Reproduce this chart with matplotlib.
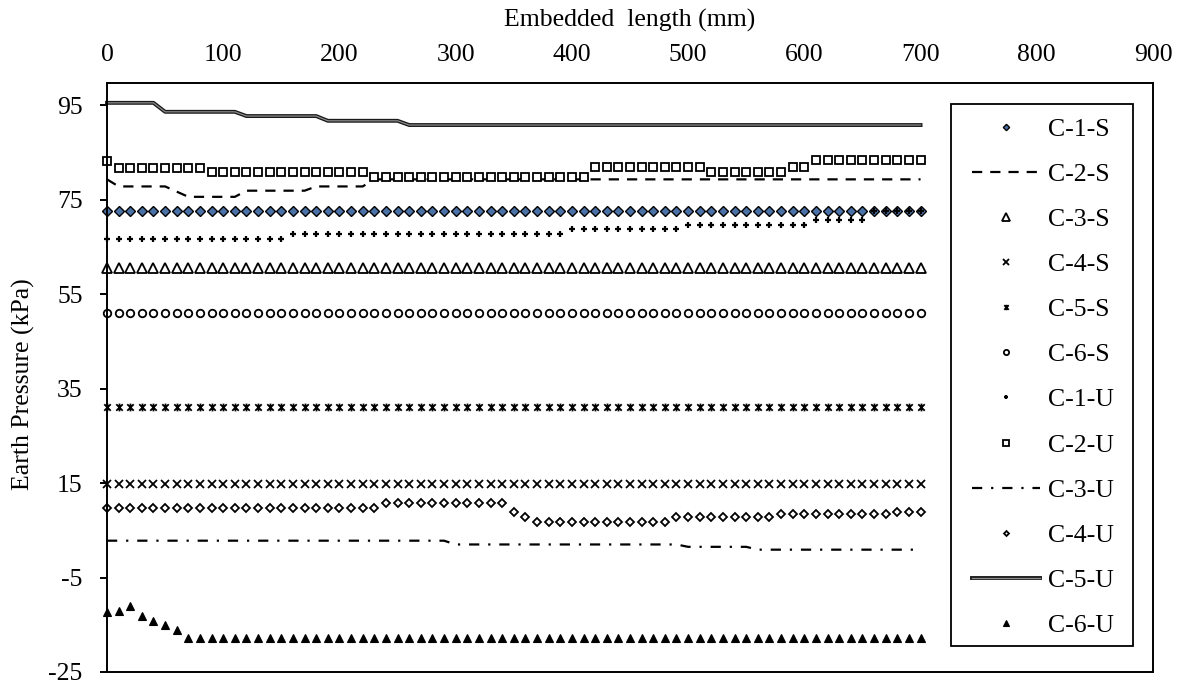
import matplotlib
matplotlib.use("Agg")
import matplotlib.pyplot as plt
from matplotlib.path import Path
from matplotlib.patches import Rectangle
import matplotlib.patheffects as pe

plt.rcParams['font.family'] = ['Liberation Serif', 'DejaVu Serif']
plt.rcParams['axes.unicode_minus'] = False

# Embedded length of each reading (mm)
distance = list(range(0, 701, 10))

# Earth pressure (kPa) per gauge
c1_s = [
    72.5, 72.5, 72.5, 72.5, 72.5, 72.5, 72.5, 72.5, 72.5, 72.5,
    72.5, 72.5, 72.5, 72.5, 72.5, 72.5, 72.5, 72.5, 72.5, 72.5,
    72.5, 72.5, 72.5, 72.5, 72.5, 72.5, 72.5, 72.5, 72.5, 72.5,
    72.5, 72.5, 72.5, 72.5, 72.5, 72.5, 72.5, 72.5, 72.5, 72.5,
    72.5, 72.5, 72.5, 72.5, 72.5, 72.5, 72.5, 72.5, 72.5, 72.5,
    72.5, 72.5, 72.5, 72.5, 72.5, 72.5, 72.5, 72.5, 72.5, 72.5,
    72.5, 72.5, 72.5, 72.5, 72.5, 72.5, 72.5, 72.5, 72.5, 72.5,
    72.5]
c2_s = [
    79.3, 77.8, 77.8, 77.8, 77.8, 77.8, 76.7, 75.6, 75.6, 75.6,
    75.6, 75.6, 76.9, 76.9, 76.9, 76.9, 76.9, 76.9, 77.8, 77.8,
    77.8, 77.8, 77.8, 79.3, 79.3, 79.3, 79.3, 79.3, 79.3, 79.3,
    79.3, 79.3, 79.3, 79.3, 79.3, 79.3, 79.3, 79.3, 79.3, 79.3,
    79.3, 79.3, 79.3, 79.3, 79.3, 79.3, 79.3, 79.3, 79.3, 79.3,
    79.3, 79.3, 79.3, 79.3, 79.3, 79.3, 79.3, 79.3, 79.3, 79.3,
    79.3, 79.3, 79.3, 79.3, 79.3, 79.3, 79.3, 79.3, 79.3, 79.3,
    79.3]
c3_s = [
    60.5, 60.5, 60.5, 60.5, 60.5, 60.5, 60.5, 60.5, 60.5, 60.5,
    60.5, 60.5, 60.5, 60.5, 60.5, 60.5, 60.5, 60.5, 60.5, 60.5,
    60.5, 60.5, 60.5, 60.5, 60.5, 60.5, 60.5, 60.5, 60.5, 60.5,
    60.5, 60.5, 60.5, 60.5, 60.5, 60.5, 60.5, 60.5, 60.5, 60.5,
    60.5, 60.5, 60.5, 60.5, 60.5, 60.5, 60.5, 60.5, 60.5, 60.5,
    60.5, 60.5, 60.5, 60.5, 60.5, 60.5, 60.5, 60.5, 60.5, 60.5,
    60.5, 60.5, 60.5, 60.5, 60.5, 60.5, 60.5, 60.5, 60.5, 60.5,
    60.5]
c4_s = [
    14.7, 14.7, 14.7, 14.7, 14.7, 14.7, 14.7, 14.7, 14.7, 14.7,
    14.7, 14.7, 14.7, 14.7, 14.7, 14.7, 14.7, 14.7, 14.7, 14.7,
    14.7, 14.7, 14.7, 14.7, 14.7, 14.7, 14.7, 14.7, 14.7, 14.7,
    14.7, 14.7, 14.7, 14.7, 14.7, 14.7, 14.7, 14.7, 14.7, 14.7,
    14.7, 14.7, 14.7, 14.7, 14.7, 14.7, 14.7, 14.7, 14.7, 14.7,
    14.7, 14.7, 14.7, 14.7, 14.7, 14.7, 14.7, 14.7, 14.7, 14.7,
    14.7, 14.7, 14.7, 14.7, 14.7, 14.7, 14.7, 14.7, 14.7, 14.7,
    14.7]
c5_s = [
    31.1, 31.1, 31.1, 31.1, 31.1, 31.1, 31.1, 31.1, 31.1, 31.1,
    31.1, 31.1, 31.1, 31.1, 31.1, 31.1, 31.1, 31.1, 31.1, 31.1,
    31.1, 31.1, 31.1, 31.1, 31.1, 31.1, 31.1, 31.1, 31.1, 31.1,
    31.1, 31.1, 31.1, 31.1, 31.1, 31.1, 31.1, 31.1, 31.1, 31.1,
    31.1, 31.1, 31.1, 31.1, 31.1, 31.1, 31.1, 31.1, 31.1, 31.1,
    31.1, 31.1, 31.1, 31.1, 31.1, 31.1, 31.1, 31.1, 31.1, 31.1,
    31.1, 31.1, 31.1, 31.1, 31.1, 31.1, 31.1, 31.1, 31.1, 31.1,
    31.1]
c6_s = [
    50.9, 50.9, 50.9, 50.9, 50.9, 50.9, 50.9, 50.9, 50.9, 50.9,
    50.9, 50.9, 50.9, 50.9, 50.9, 50.9, 50.9, 50.9, 50.9, 50.9,
    50.9, 50.9, 50.9, 50.9, 50.9, 50.9, 50.9, 50.9, 50.9, 50.9,
    50.9, 50.9, 50.9, 50.9, 50.9, 50.9, 50.9, 50.9, 50.9, 50.9,
    50.9, 50.9, 50.9, 50.9, 50.9, 50.9, 50.9, 50.9, 50.9, 50.9,
    50.9, 50.9, 50.9, 50.9, 50.9, 50.9, 50.9, 50.9, 50.9, 50.9,
    50.9, 50.9, 50.9, 50.9, 50.9, 50.9, 50.9, 50.9, 50.9, 50.9,
    50.9]
c1_u = [
    66.7, 66.7, 66.7, 66.7, 66.7, 66.7, 66.7, 66.7, 66.7, 66.7,
    66.7, 66.7, 66.7, 66.7, 66.7, 66.7, 67.7, 67.7, 67.7, 67.7,
    67.7, 67.7, 67.7, 67.7, 67.7, 67.7, 67.7, 67.7, 67.7, 67.7,
    67.7, 67.7, 67.7, 67.7, 67.7, 67.7, 67.7, 67.7, 67.7, 67.7,
    68.7, 68.7, 68.7, 68.7, 68.7, 68.7, 68.7, 68.7, 68.7, 68.7,
    69.7, 69.7, 69.7, 69.7, 69.7, 69.7, 69.7, 69.7, 69.7, 69.7,
    69.7, 70.8, 70.8, 70.8, 70.8, 70.8, 72.5, 72.5, 72.5, 72.5,
    72.5]
c2_u = [
    83.2, 81.8, 81.8, 81.8, 81.8, 81.8, 81.8, 81.8, 81.8, 80.8,
    80.8, 80.8, 80.8, 80.8, 80.8, 80.8, 80.8, 80.8, 80.8, 80.8,
    80.8, 80.8, 80.8, 79.8, 79.8, 79.8, 79.8, 79.8, 79.8, 79.8,
    79.8, 79.8, 79.8, 79.8, 79.8, 79.8, 79.8, 79.8, 79.8, 79.8,
    79.8, 79.8, 81.9, 81.9, 81.9, 81.9, 81.9, 81.9, 81.9, 81.9,
    81.9, 81.9, 80.9, 80.9, 80.9, 80.9, 80.9, 80.9, 80.9, 81.9,
    81.9, 83.3, 83.3, 83.3, 83.3, 83.3, 83.3, 83.3, 83.3, 83.3,
    83.3]
c3_u = [
    2.8, 2.8, 2.8, 2.8, 2.8, 2.8, 2.8, 2.8, 2.8, 2.8,
    2.8, 2.8, 2.8, 2.8, 2.8, 2.8, 2.8, 2.8, 2.8, 2.8,
    2.8, 2.8, 2.8, 2.8, 2.8, 2.8, 2.8, 2.8, 2.8, 2.8,
    2.0, 2.0, 2.0, 2.0, 2.0, 2.0, 2.0, 2.0, 2.0, 2.0,
    2.0, 2.0, 2.0, 2.0, 2.0, 2.0, 2.0, 2.0, 2.0, 2.0,
    1.5, 1.5, 1.5, 1.5, 1.5, 1.5, 0.9, 0.9, 0.9, 0.9,
    0.9, 0.9, 0.9, 0.9, 0.9, 0.9, 0.9, 0.9, 0.9, 0.9,
    0.9]
c4_u = [
    9.7, 9.7, 9.7, 9.7, 9.7, 9.7, 9.7, 9.7, 9.7, 9.7,
    9.7, 9.7, 9.7, 9.7, 9.7, 9.7, 9.7, 9.7, 9.7, 9.7,
    9.7, 9.7, 9.7, 9.7, 10.8, 10.8, 10.8, 10.8, 10.8, 10.8,
    10.8, 10.8, 10.8, 10.8, 10.8, 8.9, 7.8, 6.8, 6.8, 6.8,
    6.8, 6.8, 6.8, 6.8, 6.8, 6.8, 6.8, 6.8, 6.8, 7.8,
    7.8, 7.8, 7.8, 7.8, 7.8, 7.8, 7.8, 7.8, 8.4, 8.4,
    8.4, 8.4, 8.4, 8.4, 8.4, 8.4, 8.4, 8.4, 8.9, 8.9,
    8.9]
c5_u = [
    95.5, 95.5, 95.5, 95.5, 95.5, 93.6, 93.6, 93.6, 93.6, 93.6,
    93.6, 93.6, 92.7, 92.7, 92.7, 92.7, 92.7, 92.7, 92.7, 91.7,
    91.7, 91.7, 91.7, 91.7, 91.7, 91.7, 90.8, 90.8, 90.8, 90.8,
    90.8, 90.8, 90.8, 90.8, 90.8, 90.8, 90.8, 90.8, 90.8, 90.8,
    90.8, 90.8, 90.8, 90.8, 90.8, 90.8, 90.8, 90.8, 90.8, 90.8,
    90.8, 90.8, 90.8, 90.8, 90.8, 90.8, 90.8, 90.8, 90.8, 90.8,
    90.8, 90.8, 90.8, 90.8, 90.8, 90.8, 90.8, 90.8, 90.8, 90.8,
    90.8]
c6_u = [
    -12.3, -12.1, -11.0, -13.1, -14.1, -15.1, -16.2, -17.7, -17.7, -17.7,
    -17.7, -17.7, -17.7, -17.7, -17.7, -17.7, -17.7, -17.7, -17.7, -17.7,
    -17.7, -17.7, -17.7, -17.7, -17.7, -17.7, -17.7, -17.7, -17.7, -17.7,
    -17.7, -17.7, -17.7, -17.7, -17.7, -17.7, -17.7, -17.7, -17.7, -17.7,
    -17.7, -17.7, -17.7, -17.7, -17.7, -17.7, -17.7, -17.7, -17.7, -17.7,
    -17.7, -17.7, -17.7, -17.7, -17.7, -17.7, -17.7, -17.7, -17.7, -17.7,
    -17.7, -17.7, -17.7, -17.7, -17.7, -17.7, -17.7, -17.7, -17.7, -17.7,
    -17.7]

x_ticks = [0, 100, 200, 300, 400, 500, 600, 700, 800, 900]
y_ticks = [-25, -5, 15, 35, 55, 75, 95]

# asterisk-like marker: an x crossed by a vertical bar
star_marker = Path(
    [(-1, -1), (1, 1), (-1, 1), (1, -1), (0, -1.2), (0, 1.2)],
    [Path.MOVETO, Path.LINETO, Path.MOVETO, Path.LINETO, Path.MOVETO, Path.LINETO])

FS = 18.5
W, H = 1183, 688
fig = plt.figure(figsize=(W / 100, H / 100), dpi=100)
ax = fig.add_axes([107 / W, 1 - 672 / H, (1153 - 107) / W, (672 - 83) / H])

none = dict(linestyle='none')
series = [
    ('C-1-S', c1_s, dict(marker='D', ms=4.6, mfc='#4a72a6', mec='black', mew=1.0, **none)),
    ('C-2-S', c2_s, dict(color='black', lw=1.6, dashes=(4.6, 3.6))),
    ('C-3-S', c3_s, dict(marker='^', ms=7.4, mfc='white', mec='black', mew=1.3, **none)),
    ('C-4-S', c4_s, dict(marker='x', ms=5.4, mec='black', mew=1.3, **none)),
    ('C-5-S', c5_s, dict(marker=star_marker, ms=5.6, mec='black', mew=1.3, **none)),
    ('C-6-S', c6_s, dict(marker='o', ms=5.4, mfc='white', mec='black', mew=1.3, **none)),
    ('C-1-U', c1_u, dict(marker='+', ms=4.0, mec='black', mew=1.6, **none)),
    ('C-2-U', c2_u, dict(marker='s', ms=5.6, mfc='white', mec='black', mew=1.3, **none)),
    ('C-3-U', c3_u, dict(color='black', lw=1.6, dashes=(4.6, 4.0, 1.0, 4.0))),
    ('C-4-U', c4_u, dict(marker='D', ms=3.6, mfc='white', mec='black', mew=1.3, **none)),
    ('C-5-U', c5_u, dict(color='#8c8c8c', lw=0.9,
                         path_effects=[pe.Stroke(linewidth=2.8, foreground='#1a1a1a'), pe.Normal()])),
    ('C-6-U', c6_u, dict(marker='^', ms=5.6, mfc='black', mec='black', mew=0.8, **none)),
]

handles = []
for name, values, style in series:
    line, = ax.plot(distance, values, label=name, clip_on=False, **style)
    handles.append(line)

ax.set_xlim(0, 900)
ax.set_ylim(-25, 99.7)
ax.xaxis.tick_top()
ax.set_xticks(x_ticks)
ax.set_xticklabels([str(t) for t in x_ticks])
ax.set_yticks(y_ticks)
ax.set_yticklabels([str(t) for t in y_ticks])
ax.tick_params(axis='x', length=0, pad=12.5, labelsize=FS)
ax.tick_params(axis='y', direction='out', length=5, width=1.4, pad=12.5, labelsize=FS)
for sp in ax.spines.values():
    sp.set_linewidth(1.4)
    sp.set_color('black')

fig.text(630 / W, 1 - 20 / H, 'Embedded  length (mm)', ha='center', va='center', fontsize=FS)
fig.text(23 / W, 1 - 384 / H, 'Earth Pressure (kPa)', ha='center', va='center',
         rotation=90, fontsize=FS)

leg = fig.legend(handles=handles, loc='upper left', bbox_to_anchor=(972 / W, 1 - 118 / H),
                 bbox_transform=fig.transFigure, frameon=False, borderpad=0, borderaxespad=0,
                 handlelength=2.65, handletextpad=0.31, labelspacing=0.86, markerscale=0.7,
                 fontsize=FS)
fig.add_artist(Rectangle((951 / W, 1 - 646 / H), (1133 - 951) / W, (646 - 104) / H,
                         transform=fig.transFigure, fill=False, ec='black', lw=1.3))

fig.savefig('out.png', dpi=100)
